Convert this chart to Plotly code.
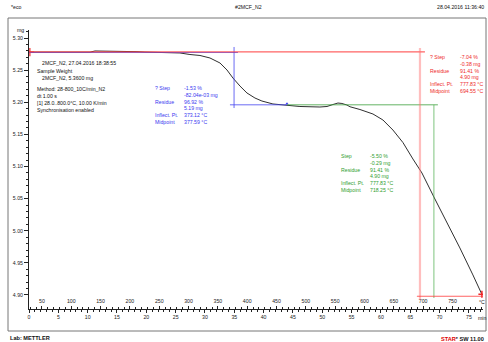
import plotly.graph_objects as go

# ---- TGA curve: sample mass (mg) vs sample temperature (°C) ----
temperature_c = [28.0, 80.8, 132.0, 140.5, 174.6, 183.1, 212.1, 225.7, 268.3, 285.4,
                 302.4, 319.5, 336.5, 353.6, 365.5, 375.7, 387.6, 399.6, 413.2, 425.1,
                 443.9, 467.8, 489.9, 524.0, 536.0, 546.2, 554.7, 561.5, 570.0, 575.2,
                 592.2, 614.4, 631.4, 648.4, 665.5, 682.5, 697.9, 720.0, 740.5, 762.6,
                 784.8, 800.1]
mass_mg = [5.2780, 5.2780, 5.2780, 5.2798, 5.2798, 5.2790, 5.2787, 5.2781, 5.2778, 5.2767,
           5.2743, 5.2728, 5.2689, 5.2611, 5.2502, 5.2377, 5.2253, 5.2144, 5.2066, 5.2019,
           5.1973, 5.1949, 5.1934, 5.1926, 5.1934, 5.1965, 5.1988, 5.1981, 5.1957, 5.1930,
           5.1887, 5.1817, 5.1724, 5.1568, 5.1373, 5.1117, 5.0899, 5.0494, 5.0136, 4.9732,
           4.9312, 4.9010]

# heating programme: 28 °C start, 10 K/min
T_START = 28.0
RATE = 10.0

# ---- step evaluations ----
# first step (blue)
step1_upper = 5.278
step1_lower = 5.196
step1_mid = 377.59
# total step (red)
step2_upper = 5.278
step2_lower = 4.898
step2_mid = 694.55
# second step (green)
step3_upper = 5.196
step3_lower = 4.906
step3_mid = 718.25

blue_labels = ["? Step", "", "Residue", "", "Inflect. Pt.", "Midpoint"]
blue_values = ["-1.53 %", "-82.04e-03 mg", "96.92 %", "5.19 mg", "373.12 °C", "377.59 °C"]
red_labels = ["? Step", "", "Residue", "", "Inflect. Pt.", "Midpoint"]
red_values = ["-7.04 %", "-0.38 mg", "91.41 %", "4.90 mg", "777.83 °C", "694.55 °C"]
green_labels = ["Step", "", "Residue", "", "Inflect. Pt.", "Midpoint"]
green_values = ["-5.50 %", "-0.29 mg", "91.41 %", "4.90 mg", "777.83 °C", "718.25 °C"]

info_lines = ["2MCF_N2, 27.04.2016 18:38:55", "Sample Weight", "2MCF_N2, 5.3600 mg",
              "Method: 28-800_10C/min_N2", "dt 1.00 s", "[1] 28.0..800.0°C, 10.00 K/min",
              "Synchronisation enabled"]

time_ticks = list(range(0, 80, 5))
temp_ticks = list(range(50, 800, 50))
mass_ticks = [4.90, 4.95, 5.00, 5.05, 5.10, 5.15, 5.20, 5.25, 5.30]

# ---- page geometry (pixels) ----
W, H = 488, 342
PL, PR, PT, PB = 29, 483, 30, 309
T_MIN, T_MAX = 0.0, 77.4          # time axis range, min
M_MIN, M_MAX = 4.8782, 5.31245


def px(x, y):
    return x / W, 1 - y / H


FONT = "Liberation Sans"
FS = 5.2
BLUE = "#3a3af0"
RED = "#ee2a2a"
GREEN = "#2f9e2f"

fig = go.Figure()

fig.add_trace(go.Scatter(x=temperature_c, y=mass_mg, xaxis="x", yaxis="y", mode="lines",
                         line=dict(color="#303030", width=1), hoverinfo="skip", showlegend=False))

shapes = []


def seg(x0, y0, x1, y1, color, width=1.0):
    shapes.append(dict(type="line", xref="x", yref="y", x0=x0, y0=y0, x1=x1, y1=y1,
                       line=dict(color=color, width=width), layer="above"))


# blue (first step)
seg(T_START, step1_upper - 0.0006, 384.2, step1_upper - 0.0006, "rgba(70,70,240,0.8)", 1.0)
seg(step1_mid, 5.286, step1_mid, 5.191, "rgba(70,70,240,0.8)", 1.0)
seg(370.6, step1_lower, 467.8, step1_lower, "rgba(70,70,240,0.8)", 1.0)
# green (second step)
seg(467.8, step3_upper, 725.1, step3_upper, "rgba(60,160,60,0.8)", 1.0)
seg(step3_mid, step3_upper, step3_mid, 4.8953, "rgba(90,180,90,0.6)", 1.3)
# red (total step)
seg(T_START, step2_upper + 0.0004, 703.0, step2_upper + 0.0004, "rgba(255,60,60,0.8)", 1.1)
seg(step2_mid, 5.2844, step2_mid, 4.892, "rgba(255,110,110,0.45)", 2.2)
seg(689.3, step2_lower, 802, step2_lower, "rgba(255,60,60,0.8)", 1.1)

# evaluation limit markers (start marker placed on the time axis, t just after 0)
fig.add_trace(go.Scatter(x=[0.15], y=[step2_upper], xaxis="x2", yaxis="y", mode="markers",
                         marker=dict(symbol="cross-thin", size=6, line=dict(color=RED, width=1.2)),
                         hoverinfo="skip", showlegend=False))
fig.add_trace(go.Scatter(x=[800.1], y=[4.901], xaxis="x", yaxis="y", mode="markers",
                         marker=dict(symbol="cross-thin", size=5, line=dict(color=RED, width=1.5)),
                         hoverinfo="skip", showlegend=False))
fig.add_trace(go.Scatter(x=[467.8], y=[5.1975], xaxis="x", yaxis="y", mode="markers",
                         marker=dict(symbol="triangle-up", size=3, color=BLUE),
                         hoverinfo="skip", showlegend=False))

# outer frame
fx0, fy0 = px(8, 18)
fx1, fy1 = px(486, 331)
shapes.append(dict(type="rect", xref="paper", yref="paper", x0=fx0, y0=fy1, x1=fx1, y1=fy0,
                   line=dict(color="#777777", width=1), layer="below"))

annotations = []


def text(x, y, s, color="#111111", anchor="left", size=FS, bold=False):
    ax, ay = px(x, y)
    annotations.append(dict(xref="paper", yref="paper", x=ax, y=ay, text=("<b>%s</b>" % s) if bold else s,
                            showarrow=False, xanchor=anchor, yanchor="middle", align="left",
                            font=dict(family=FONT, size=size, color=color)))


def block(x, y, lines, color):
    ax, ay = px(x, y)
    annotations.append(dict(xref="paper", yref="paper", x=ax, y=ay,
                            text="<br>".join(l if l else " " for l in lines),
                            showarrow=False, xanchor="left", yanchor="top", align="left",
                            font=dict(family=FONT, size=FS, color=color)))


# header / footer
text(9, 7, "*eco", size=5.2)
text(248, 7, "#2MCF_N2", anchor="center", size=5.2)
text(486, 7, "28.04.2016 11:36:40", anchor="right", size=5.2)
text(8, 338, "Lab: METTLER", size=5.6, bold=True)
text(486, 338, "<b><span style='color:#e00000'>STAR</span><sup>e</sup> SW 11.00</b>", anchor="right", size=5.6)

# axis unit labels
text(20, 30, "mg", anchor="center")
text(477, 302, "°C", anchor="left")
text(476, 318, "min", anchor="left")

# method information
info_pos = [(40, 63.5), (35, 71), (40, 77.5), (35, 89), (35, 95.7), (35, 102.5), (35, 109.5)]
for (x, y), s in zip(info_pos, info_lines):
    text(x, y, s)

# step result blocks
block(153, 83, blue_labels, BLUE)
block(182, 83, blue_values, BLUE)
block(428, 52, red_labels, RED)
block(458, 52, red_values, RED)
block(339, 151, green_labels, GREEN)
block(368, 151, green_values, GREEN)

axis_font = dict(family=FONT, size=FS, color="#222222")

fig.update_layout(
    width=W, height=H,
    margin=dict(l=0, r=0, t=0, b=0, autoexpand=False),
    paper_bgcolor="white", plot_bgcolor="white",
    showlegend=False,
    # temperature axis (data axis), labels drawn above the axis line
    xaxis=dict(domain=[PL / W, PR / W],
               range=[T_START + RATE * T_MIN, T_START + RATE * T_MAX], anchor="y",
               automargin=False,
               showgrid=False, zeroline=False, showline=True, linecolor="#222222", linewidth=1,
               ticks="inside", ticklen=3, tickcolor="#222222", tickwidth=1,
               ticklabelposition="inside", tickvals=temp_ticks,
               ticktext=[str(v) for v in temp_ticks], tickfont=axis_font,
               minor=dict(dtick=10, tick0=0, ticks="inside", ticklen=2, tickcolor="#222222", showgrid=False)),
    # time axis, labels below the axis line
    xaxis2=dict(overlaying="x", anchor="y", side="bottom", range=[T_MIN, T_MAX],
                automargin=False,
                showgrid=False, zeroline=False, showline=False,
                ticks="outside", ticklen=3, tickcolor="#222222", tickwidth=1,
                tickvals=time_ticks, ticktext=[str(v) for v in time_ticks], tickfont=axis_font,
                minor=dict(dtick=1, tick0=0, ticks="outside", ticklen=2, tickcolor="#222222", showgrid=False)),
    yaxis=dict(domain=[1 - PB / H, 1 - PT / H], range=[M_MIN, M_MAX], anchor="x",
               automargin=False,
               showgrid=False, zeroline=False, showline=True, linecolor="#222222", linewidth=1,
               ticks="outside", ticklen=4, tickcolor="#222222", tickwidth=1,
               tickvals=mass_ticks, ticktext=["%.2f" % v for v in mass_ticks], tickfont=axis_font,
               minor=dict(dtick=0.01, tick0=4.90, ticks="outside", ticklen=2, tickcolor="#222222", showgrid=False)),
    shapes=shapes,
    annotations=annotations,
)

fig.write_html("out.html")
